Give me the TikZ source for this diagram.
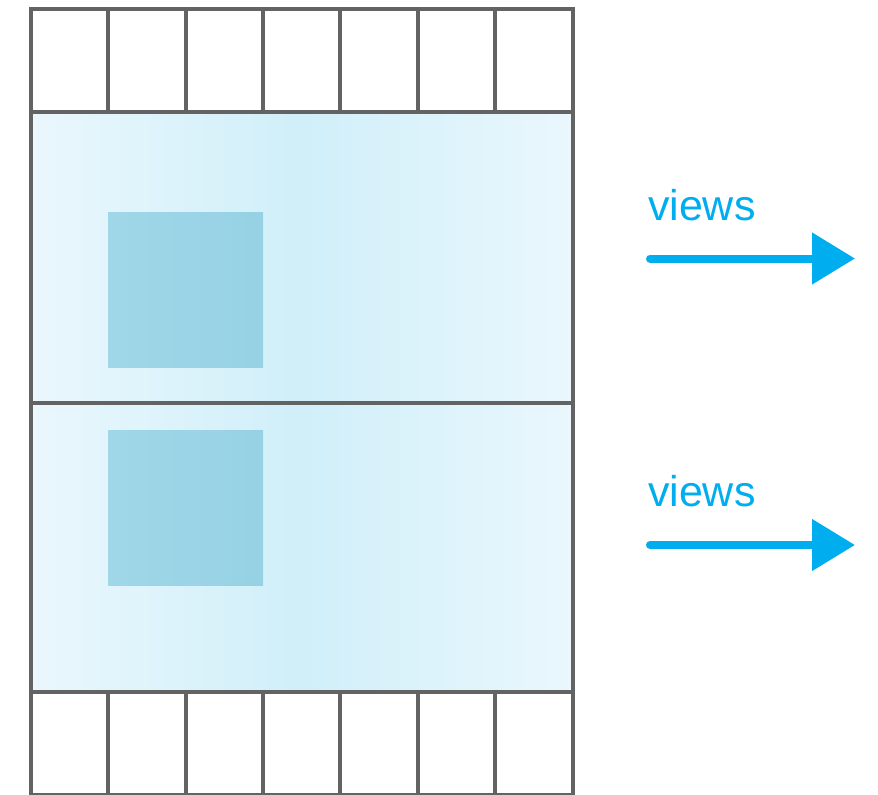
\documentclass[tikz,border=0pt]{standalone}
\usepackage{fontspec}
\setmainfont{Liberation Sans}
\usetikzlibrary{arrows.meta,positioning}

\definecolor{filmline}{HTML}{636363}
\definecolor{viewblue}{HTML}{00AEEF}
\definecolor{frameedge}{HTML}{EAF7FD}
\definecolor{framemid}{HTML}{D0EFF9}
\definecolor{shotleft}{HTML}{A0D7E8}
\definecolor{shotright}{HTML}{96D1E4}

\begin{document}
\begin{tikzpicture}[x=1pt,y=-1pt,line width=4pt]
  \tikzstyle{frame}=[draw=filmline,left color=frameedge,right color=frameedge,
                     middle color=framemid]
  \tikzstyle{cell}=[draw=filmline]
  \tikzstyle{shot}=[left color=shotleft,right color=shotright]
  \tikzstyle{viewtext}=[text=viewblue,font=\fontsize{43}{48}\selectfont,
                        inner sep=0pt,anchor=base west]
  \tikzstyle{pan}=[draw=viewblue,line width=8pt,line cap=round,
                   -{Triangle[length=43pt,width=50pt]}]

  \useasboundingbox (0,0) rectangle (878,795);

  % sprocket rows
  \foreach \i in {0,...,6} {
    \draw[cell] (31+\i*77.36,9) rectangle ++(77.36,103);
    \draw[cell] (31+\i*77.36,691.5) rectangle ++(77.36,103.5);
  }

  % two frames
  \draw[frame] (31,112) rectangle (572.5,402.5);
  \draw[frame] (31,402.5) rectangle (572.5,691.5);
  \fill[shot] (108,212) rectangle (263,367);
  \fill[shot] (108,430) rectangle (263,585);

  % views
  \node[viewtext] (viewsA) at (646,220)   {views};
  \node[viewtext] (viewsB) at (646,506.5) {views};
  \coordinate (panA) at (650,258.5);
  \coordinate (panAend) at (855,258.5);
  \coordinate (panB) at (650,545);
  \coordinate (panBend) at (855,545);
  \draw[pan] (panA) -- (panAend);
  \draw[pan] (panB) -- (panBend);
\end{tikzpicture}
\end{document}
